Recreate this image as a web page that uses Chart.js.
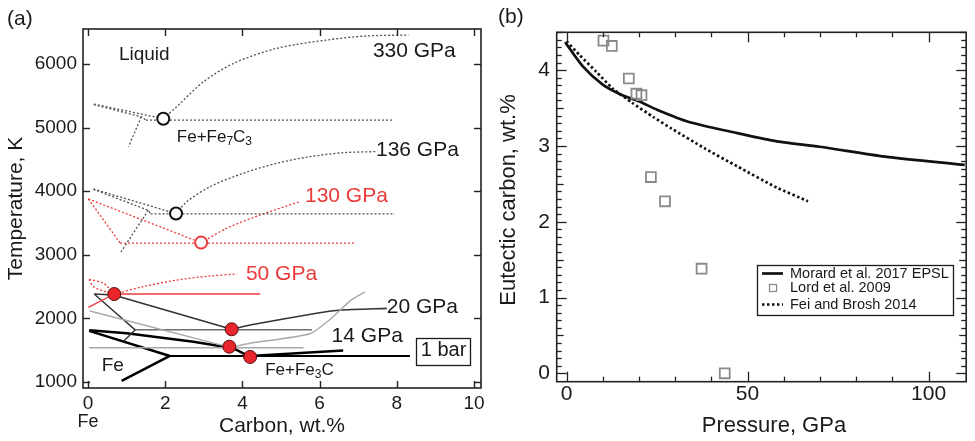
<!DOCTYPE html>
<html><head><meta charset="utf-8">
<script src="https://cdn.jsdelivr.net/npm/chart.js@4.4.1/dist/chart.umd.min.js"></script>
<style>
html,body{margin:0;padding:0;background:#fff;}
body{width:975px;height:441px;overflow:hidden;position:relative;}
#ca{position:absolute;left:0;top:0;}
#cb{position:absolute;left:490px;top:0;}
</style></head><body>
<canvas id="ca" width="490" height="441"></canvas>
<canvas id="cb" width="485" height="441"></canvas>
<script>
const F = '"Liberation Sans", Arial, Helvetica, sans-serif';
const INK = '#1a1a1a', RED = '#ec3a3a', DG = '#505050', LG = '#a9a9a9', MG = '#6e6e6e';

// ---------- Panel (a): Fe–C phase diagram, [carbon wt.%, temperature K] ----------
const xTicksA = [0, 2, 4, 6, 8, 10];
const yTicksA = [1000, 2000, 3000, 4000, 5000, 6000];
// 330 GPa
const liq330L = [[0.15,5370],[1.95,5140]];
const sol330  = [[0.15,5360],[1.38,5170],[1.50,5118]];
const low330  = [[1.38,5170],[1.05,4700]];
const eut330  = [[1.50,5118],[7.90,5118]];
const liq330R = [[1.95,5140],[2.30,5330],[2.99,5720],[3.77,6010],[4.89,6246],[6.18,6377],[7.20,6440],[8.30,6456]];
// 136 GPa
const liq136L = [[0.14,4035],[2.28,3648]];
const sol136  = [[0.14,4030],[1.56,3700],[1.62,3645]];
const low136  = [[1.56,3700],[0.85,3040]];
const eut136  = [[1.62,3645],[7.95,3645]];
const liq136R = [[2.28,3648],[2.56,3836],[3.16,4071],[4.02,4282],[4.89,4439],[5.75,4543],[6.61,4606],[7.44,4622]];
// 130 GPa
const liq130L = [[0.01,3878],[2.93,3190]];
const sol130  = [[0.01,3878],[0.83,3188]];
const eut130  = [[0.83,3185],[6.92,3185]];
const liq130R = [[2.93,3190],[3.59,3417],[4.46,3626],[5.49,3836]];
// 50 GPa
const loop50a = [[0.03,2615],[0.40,2553],[0.68,2384]];
const loop50b = [[0.03,2615],[0.14,2500],[0.57,2395],[0.68,2384]];
const liq50R  = [[0.68,2384],[1.43,2500],[2.30,2604],[3.16,2667],[3.85,2699]];
const sol50   = [[0.01,2175],[0.68,2384]];
const eut50   = [[0.68,2384],[4.46,2384]];
// 20 GPa
const liq20L = [[0.16,2384],[0.66,2368],[3.72,1830]];
const sol20  = [[0.16,2384],[1.22,1820],[0.92,1640]];
const eut20  = [[1.22,1822],[5.80,1822]];
const liq20R = [[3.72,1830],[4.20,1897],[5.92,2081],[6.53,2133],[7.74,2159]];
// 14 GPa
const liq14L = [[0.05,2117],[3.68,1545]];
const eut14  = [[0.03,1540],[5.58,1540]];
const liq14R = [[3.68,1545],[4.20,1610],[5.75,1760],[6.30,2000],[6.80,2280],[7.18,2420]];
// 1 bar
const liq1L = [[0.03,1815],[1.00,1767],[2.73,1635],[3.77,1530],[4.15,1412]];
const sol1  = [[0.03,1805],[2.12,1410],[0.87,1020]];
const eut1  = [[2.12,1410],[8.34,1410]];
const liq1R = [[4.20,1410],[6.61,1495]];
// eutectic points
const eutOpenBlack = [[1.95,5140],[2.28,3650]];
const eutOpenRed   = [[2.93,3192]];
const eutFilledRed = [[0.68,2384],[3.72,1830],[3.66,1556],[4.20,1395]];

const notesA = [
  {parts:[['Liquid',0]], x:0.80, y:6141, size:19, color:INK},
  {parts:[['330 GPa',0]], x:7.38, y:6204, size:21, color:INK},
  {parts:[['Fe+Fe',0],['7',1],['C',0],['3',1]], x:2.30, y:4852, size:17, color:INK},
  {parts:[['136 GPa',0]], x:7.46, y:4643, size:21, color:INK},
  {parts:[['130 GPa',0]], x:5.62, y:3914, size:21, color:RED},
  {parts:[['50 GPa',0]], x:4.09, y:2696, size:21, color:RED},
  {parts:[['20 GPa',0]], x:7.74, y:2180, size:21, color:INK},
  {parts:[['14 GPa',0]], x:6.31, y:1719, size:21, color:INK},
  {parts:[['1 bar',0]], x:8.62, y:1499, size:20, color:INK, box:true},
  {parts:[['Fe',0]], x:0.355, y:1264, size:19, color:INK},
  {parts:[['Fe+Fe',0],['3',1],['C',0]], x:4.59, y:1190, size:17, color:INK}
];

// ---------- Panel (b): eutectic carbon vs pressure ----------
const xTicksB = [0, 50, 100];
const xMinorB = [10, 20, 30, 40, 60, 70, 80, 90];
const yTicksB = [0, 1, 2, 3, 4];
const pressureMorard = [-0.4, 4.5, 10.0, 15.4, 20.0, 24.9, 33.6, 47.2, 58.1, 69.9, 88.0, 110.0];
const carbonMorard   = [4.37, 4.05, 3.81, 3.67, 3.59, 3.48, 3.32, 3.17, 3.06, 2.99, 2.86, 2.75];
const pressureLord = [10.2, 12.5, 17.2, 19.3, 20.7, 23.3, 27.2, 37.3, 43.7];
const carbonLord   = [4.39, 4.32, 3.89, 3.69, 3.67, 2.59, 2.27, 1.38, 0.00];
const pressureFei = [0.0, 3.6, 8.2, 12.7, 18.1, 24.0, 29.0, 38.1, 47.2, 58.1, 66.7];
const carbonFei   = [4.38, 4.20, 3.98, 3.76, 3.57, 3.38, 3.23, 2.97, 2.73, 2.45, 2.27];
const legendB = ['Morard et al. 2017 EPSL', 'Lord et al. 2009', 'Fei and Brosh 2014'];

// ---------- helpers ----------
const pts = a => a.map(p => ({x:p[0], y:p[1]}));
const zip = (xs, ys) => xs.map((v,i) => ({x:v, y:ys[i]}));
function ln(data, color, width, dash, tension) {
  return {data: pts(data), showLine:true, borderColor:color, borderWidth:width,
    borderDash: dash || [], pointRadius:0, pointHoverRadius:0, tension: tension || 0,
    fill:false, order:2, borderCapStyle:'butt', borderJoinStyle:'round'};
}
const DOT = [2, 2];
const plain = v => String(v);

function framePlugin(cfg) {
  return {
    id:'frame',
    afterDraw(chart) {
      const ctx = chart.ctx, a = chart.chartArea, x = chart.scales.x, y = chart.scales.y;
      ctx.save();
      ctx.setLineDash([]);
      ctx.strokeStyle = cfg.color;
      ctx.lineWidth = cfg.tw;
      ctx.lineCap = 'butt';
      const seg = (x1, y1, x2, y2) => { ctx.beginPath(); ctx.moveTo(x1, y1); ctx.lineTo(x2, y2); ctx.stroke(); };
      const tx = (vals, len) => vals.forEach(v => {
        const p = Math.round(x.getPixelForValue(v)) + 0.5;
        seg(p, a.bottom, p, a.bottom - len);
        seg(p, a.top, p, a.top + len);
      });
      const ty = (vals, len) => vals.forEach(v => {
        const p = Math.round(y.getPixelForValue(v)) + 0.5;
        seg(a.left, p, a.left + len, p);
        seg(a.right, p, a.right - len, p);
      });
      tx(cfg.xMajor, cfg.major); ty(cfg.yMajor, cfg.major);
      if (cfg.xMinor) tx(cfg.xMinor, cfg.minor);
      if (cfg.yMinor) ty(cfg.yMinor, cfg.minor);
      if (cfg.yMid) ty(cfg.yMid, cfg.mid);
      ctx.lineWidth = cfg.lw;
      ctx.strokeRect(a.left, a.top, a.right - a.left, a.bottom - a.top);
      ctx.restore();
    }
  };
}

function drawParts(ctx, parts, x, y, size, color) {
  let cx = x;
  ctx.fillStyle = color;
  ctx.textAlign = 'left';
  ctx.textBaseline = 'middle';
  for (const [t, sub] of parts) {
    const s = sub ? Math.round(size * 0.68) : size;
    ctx.font = s + 'px ' + F;
    ctx.fillText(t, cx, sub ? y + size * 0.3 : y);
    cx += ctx.measureText(t).width;
  }
  return cx - x;
}

const notesPluginA = {
  id:'notesA',
  afterDraw(chart) {
    const {ctx, scales:{x, y}, chartArea:a} = chart;
    ctx.save();
    for (const n of notesA) {
      const px = x.getPixelForValue(n.x), py = y.getPixelForValue(n.y);
      const w = drawParts(ctx, n.parts, px, py, n.size, n.color);
      if (n.box) {
        ctx.strokeStyle = INK; ctx.lineWidth = 1.3;
        ctx.strokeRect(Math.round(px - 5) + 0.5, Math.round(py - 12.5) + 0.5, Math.round(w + 8), 27);
      }
    }
    ctx.font = '18px ' + F; ctx.fillStyle = INK; ctx.textAlign = 'center'; ctx.textBaseline = 'middle';
    ctx.fillText('Fe', x.getPixelForValue(0), a.bottom + 34);
    ctx.font = '21px ' + F; ctx.textAlign = 'left';
    ctx.fillText('(a)', 7, 19);
    ctx.restore();
  }
};

const legendPluginB = {
  id:'legendB',
  afterDraw(chart) {
    const {ctx} = chart;
    const bx = 267, by = 265, bw = 196, bh = 50;
    ctx.save();
    ctx.fillStyle = '#fff';
    ctx.fillRect(bx, by, bw, bh);
    ctx.strokeStyle = INK; ctx.lineWidth = 1.3;
    ctx.strokeRect(bx + 0.5, by + 0.5, bw, bh);
    const rows = [by + 8.5, by + 23, by + 39.5];
    const ds = chart.data.datasets;
    ctx.lineWidth = 2.7; ctx.strokeStyle = ds[0].borderColor; ctx.setLineDash([]);
    ctx.beginPath(); ctx.moveTo(bx + 5, rows[0]); ctx.lineTo(bx + 26, rows[0]); ctx.stroke();
    ctx.lineWidth = 1.3; ctx.strokeStyle = ds[1].borderColor;
    ctx.strokeRect(bx + 12.5, rows[1] - 3.5, 7, 7);
    ctx.lineWidth = 2.7; ctx.strokeStyle = ds[2].borderColor; ctx.setLineDash(ds[2].borderDash);
    ctx.beginPath(); ctx.moveTo(bx + 5, rows[2]); ctx.lineTo(bx + 26, rows[2]); ctx.stroke();
    ctx.setLineDash([]);
    ctx.fillStyle = INK; ctx.font = '14.5px ' + F; ctx.textAlign = 'left'; ctx.textBaseline = 'middle';
    legendB.forEach((t, i) => ctx.fillText(t, bx + 33, rows[i]));
    // axis titles and panel tag
    ctx.font = '22px ' + F; ctx.textAlign = 'center';
    ctx.fillText('Pressure, GPa', 284, 426);
    ctx.save(); ctx.translate(18.5, 200); ctx.rotate(-Math.PI / 2);
    ctx.fillText('Eutectic carbon, wt.%', 0, 0); ctx.restore();
    ctx.font = '21px ' + F; ctx.textAlign = 'left';
    ctx.fillText('(b)', 8, 17);
    ctx.restore();
  }
};

// ---------- Chart (a) ----------
const openPt = (data, color) => ({data: pts(data), showLine:false, pointRadius:6, pointHoverRadius:6,
  pointBorderWidth:2, pointBorderColor:color, pointBackgroundColor:'#fff', order:0});

new Chart(document.getElementById('ca'), {
  type:'scatter',
  data:{datasets:[
    openPt(eutOpenBlack, '#111'),
    openPt(eutOpenRed, RED),
    {data: pts(eutFilledRed), showLine:false, pointRadius:6.5, pointHoverRadius:6.5, pointBorderWidth:1,
      pointBorderColor:'#5a0b0b', pointBackgroundColor:'#e8262b', order:0},
    ln(liq330L, DG, 1.3, DOT), ln(sol330, DG, 1.3, DOT), ln(low330, DG, 1.3, DOT), ln(eut330, DG, 1.3, DOT), ln(liq330R, DG, 1.3, DOT, 0.3),
    ln(liq136L, DG, 1.3, DOT), ln(sol136, DG, 1.3, DOT), ln(low136, DG, 1.3, DOT), ln(eut136, DG, 1.3, DOT), ln(liq136R, DG, 1.3, DOT, 0.3),
    ln(liq130L, RED, 1.3, DOT), ln(sol130, RED, 1.3, DOT), ln(eut130, RED, 1.3, DOT), ln(liq130R, RED, 1.3, DOT, 0.3),
    ln(loop50a, RED, 1.3, DOT, 0.3), ln(loop50b, RED, 1.3, DOT, 0.3), ln(liq50R, RED, 1.3, DOT, 0.3),
    ln(sol50, RED, 1.3), ln(eut50, RED, 1.3),
    ln(liq14L, LG, 1.4), ln(eut14, LG, 1.4), ln(liq14R, LG, 1.4, null, 0.2),
    ln(liq20L, '#333', 1.6), ln(sol20, '#333', 1.4), ln(eut20, MG, 1.6), ln(liq20R, '#333', 1.6, null, 0.2),
    ln(liq1L, '#000', 2.5), ln(sol1, '#000', 2.5), ln(eut1, '#000', 2.2), ln(liq1R, '#000', 2.5)
  ]},
  options:{
    responsive:false, animation:false, devicePixelRatio:1,
    layout:{padding:{left:0, top:29, right:9, bottom:0}},
    plugins:{legend:{display:false}, tooltip:{enabled:false}},
    scales:{
      x:{type:'linear', min:-0.13, max:10.18,
        afterFit(s){ s.height = 53; },
        afterBuildTicks(s){ s.ticks = xTicksA.map(v => ({value:v})); },
        grid:{display:false, drawTicks:false, tickLength:0}, border:{display:false},
        ticks:{padding:4, color:INK, font:{size:19, family:F}, maxRotation:0, autoSkip:false, callback:plain},
        title:{display:true, text:'Carbon, wt.%', color:INK, font:{size:21, family:F}, padding:{top:0, bottom:2}}},
      y:{type:'linear', min:906.7, max:6550,
        afterFit(s){ s.width = 83; },
        afterBuildTicks(s){ s.ticks = yTicksA.map(v => ({value:v})); },
        grid:{display:false, drawTicks:false, tickLength:0}, border:{display:false},
        ticks:{padding:6, color:INK, font:{size:19, family:F}, autoSkip:false, callback:plain},
        title:{display:true, text:'Temperature, K', color:INK, font:{size:21, family:F}, padding:{top:4, bottom:0}}}
    }
  },
  plugins:[framePlugin({color:'#222', lw:1.6, tw:1.4, major:7, xMajor:xTicksA, yMajor:yTicksA}), notesPluginA]
});

// ---------- Chart (b) ----------
const yMinorB = [], yMidB = [];
for (let i = 1; i <= 45; i++) { if (i % 10 === 0) continue; (i % 5 === 0 ? yMidB : yMinorB).push(i / 10); }

new Chart(document.getElementById('cb'), {
  type:'scatter',
  data:{datasets:[
    {label:legendB[0], data: zip(pressureMorard, carbonMorard), showLine:true, borderColor:'#111', borderWidth:2.7,
      pointRadius:0, pointHoverRadius:0, tension:0.25, order:1},
    {label:legendB[1], data: zip(pressureLord, carbonLord), showLine:false, pointStyle:'rect', pointRadius:7,
      pointHoverRadius:7, pointBorderWidth:1.8, pointBorderColor:'#8a8a8a', pointBackgroundColor:'rgba(0,0,0,0)', borderColor:'#8a8a8a', order:0},
    {label:legendB[2], data: zip(pressureFei, carbonFei), showLine:true, borderColor:'#111', borderWidth:2.7,
      borderDash:[2.5, 2.5], borderCapStyle:'butt', pointRadius:0, pointHoverRadius:0, tension:0.2, order:1}
  ]},
  options:{
    responsive:false, animation:false, devicePixelRatio:1,
    layout:{padding:{left:0, top:32.3, right:2.7, bottom:0}},
    plugins:{legend:{display:false}, tooltip:{enabled:false}},
    scales:{
      x:{type:'linear', min:-2.72, max:110.4,
        afterFit(s){ s.height = 59.3; },
        afterBuildTicks(s){ s.ticks = xTicksB.map(v => ({value:v})); },
        grid:{display:false, drawTicks:false, tickLength:0}, border:{display:false},
        ticks:{padding:0, color:INK, font:{size:21, family:F}, maxRotation:0, autoSkip:false, callback:plain},
        title:{display:false}},
      y:{type:'linear', min:-0.111, max:4.50,
        afterFit(s){ s.width = 66.7; },
        afterBuildTicks(s){ s.ticks = yTicksB.map(v => ({value:v})); },
        grid:{display:false, drawTicks:false, tickLength:0}, border:{display:false},
        ticks:{padding:6.7, color:INK, font:{size:21, family:F}, autoSkip:false, callback:plain},
        title:{display:false}}
    }
  },
  plugins:[framePlugin({color:'#222', lw:1.6, tw:1.3, major:10, minor:5, mid:7,
    xMajor:xTicksB, yMajor:yTicksB, xMinor:xMinorB, yMinor:yMinorB, yMid:yMidB}), legendPluginB]
});
</script>
</body></html>
